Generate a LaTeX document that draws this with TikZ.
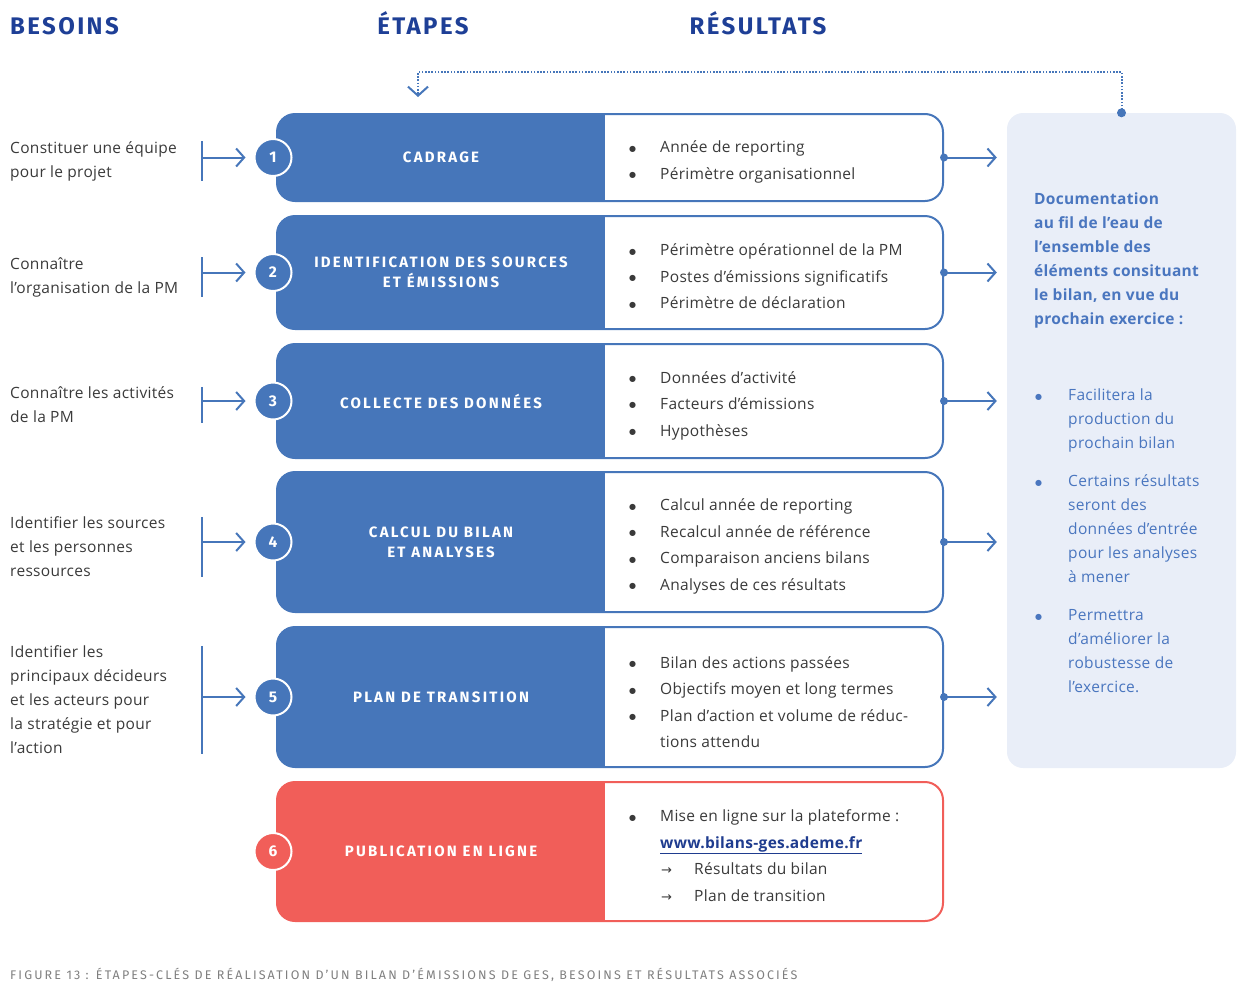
\documentclass[tikz,border=0pt]{standalone}
\usepackage{fontspec}
\setmainfont[LetterSpace=2]{Open Sans}
\newfontfamily\capsfont[LetterSpace=15]{Fira Sans}
\newfontfamily\headfont[LetterSpace=10]{Fira Sans}
\newfontfamily\capfont[LetterSpace=17]{Fira Sans}
\newfontfamily\symfont{DejaVu Sans}
\usetikzlibrary{arrows.meta}
\definecolor{stepblue}{HTML}{4676BA}
\definecolor{stepred}{HTML}{F15E59}
\definecolor{headblue}{HTML}{1E3F96}
\definecolor{docfill}{HTML}{E9EEF8}
\definecolor{docblue}{HTML}{4A76BF}
\definecolor{textgray}{HTML}{3A3A3A}
\definecolor{capgray}{HTML}{7F7F7F}
\definecolor{urlblue}{HTML}{1F3C8F}
\newcommand\bdot{\raisebox{1.6pt}{\symfont\fontsize{8}{8}\selectfont ●}}
\newcommand\bul{\makebox[31pt][l]{\bdot}}
\newcommand\dbul{\makebox[33pt][l]{\bdot}}
\newcommand\dind{\hspace*{33pt}}
\newcommand\rarr{\hspace*{32pt}\makebox[33pt][l]{\symfont\fontsize{13}{13}\selectfont →}}
\begin{document}
\begin{tikzpicture}[x=1pt,y=-1pt,
  rowbox/.style={rectangle,rounded corners=18pt,draw=#1,fill=#1,line width=2pt,
    minimum width=666pt,inner sep=0pt,
    path picture={\fill[white,sharp corners]([xshift=328pt]path picture bounding box.south west)
      rectangle(path picture bounding box.north east);}},
  numcirc/.style={circle,fill=#1,draw=white,line width=2pt,minimum size=37pt,inner sep=0pt,
    text=white,font=\headfont\bfseries\fontsize{15.5}{15.5}\selectfont},
  steptitle/.style={text=white,align=center,inner sep=0pt,font=\capsfont\bfseries\fontsize{15}{20}\selectfont},
  restext/.style={anchor=west,align=left,inner sep=0pt,text=textgray,font=\fontsize{15.5}{26.5}\selectfont},
  needtext/.style={anchor=west,align=left,inner sep=0pt,text=textgray,font=\fontsize{15.5}{24}\selectfont},
  headtitle/.style={inner sep=0pt,anchor=base,text=headblue,font=\headfont\bfseries\fontsize{24}{24}\selectfont},
  needline/.style={stepblue,line width=2pt},
  arr/.style={stepblue,line width=2pt,-{Straight Barb[length=8pt,width=18pt]}},
  loopline/.style={stepblue,line width=2pt,dash pattern=on 1.6pt off 1.6pt,-{Straight Barb[length=9pt,width=20pt]}},
  docbox/.style={rectangle,rounded corners=16pt,fill=docfill,minimum width=229pt,minimum height=655pt}]
\useasboundingbox(0,0)rectangle(1247,991);
% column titles
\node[headtitle,anchor=base west](hb)at(10,34){BESOINS};
\node[headtitle](he)at(423,34){ÉTAPES};
\node[headtitle](hr)at(758,34){RÉSULTATS};
% documentation box
\node[docbox](doc)at(1121.5,440.5){};
\node[anchor=north west,align=left,inner sep=0pt,text=docblue,font=\bfseries\fontsize{15.5}{24}\selectfont](dt)at(1034,193){Documentation\\au fil de l’eau de\\l’ensemble des\\éléments consituant\\le bilan, en vue du\\prochain exercice :};
\node[anchor=north west,align=left,inner sep=0pt,text=docblue,font=\fontsize{15.5}{24}\selectfont](di)at(1035,389){\dbul Facilitera la\\\dind production du\\\dind prochain bilan\\[14pt]
\dbul Certains résultats\\\dind seront des\\\dind données d’entrée\\\dind pour les analyses\\\dind à mener\\[14pt]
\dbul Permettra\\\dind d’améliorer la\\\dind robustesse de\\\dind l’exercice.};
\coordinate(back)at(418,97);
\draw[loopline](doc.north)--++(0,-41)-|(back);
\fill[stepblue](doc.north)circle(4.5pt);
% step 1
\node[rowbox=stepblue,minimum height=87pt](r1)at(610,157.5){};
\node[numcirc=stepblue](n1)at([xshift=-3pt]r1.west){1};
\node[steptitle](t1)at([xshift=-169pt]r1.center){CADRAGE};
\node[restext](o1)at([xshift=19pt,yshift=-4.5pt]r1.center){\bul Année de reporting\\\bul Périmètre organisationnel};
\node[needtext](need1)at(10,161){Constituer une équipe\\pour le projet};
\coordinate(b1)at(202,157.5);
\draw[needline](need1.north-|b1)--(need1.south-|b1);
\draw[arr,shorten >=8pt](b1)--(n1.west);
\fill[stepblue](r1.east)circle(4pt);
\draw[arr,shorten >=10pt](r1.east)--(r1.east-|doc.west);
% step 2
\node[rowbox=stepblue,minimum height=113pt](r2)at(610,272.5){};
\node[numcirc=stepblue](n2)at([xshift=-3pt]r2.west){2};
\node[steptitle](t2)at([xshift=-169pt]r2.center){IDENTIFICATION DES SOURCES\\ET ÉMISSIONS};
\node[restext](o2)at([xshift=19pt,yshift=-4pt]r2.center){\bul Périmètre opérationnel de la PM\\\bul Postes d’émissions significatifs\\\bul Périmètre de déclaration};
\node[needtext](need2)at(10,277){Connaître\\l’organisation de la PM};
\coordinate(b2)at(202,272.5);
\draw[needline](need2.north-|b2)--(need2.south-|b2);
\draw[arr,shorten >=8pt](b2)--(n2.west);
\fill[stepblue](r2.east)circle(4pt);
\draw[arr,shorten >=10pt](r2.east)--(r2.east-|doc.west);
% step 3
\node[rowbox=stepblue,minimum height=114pt](r3)at(610,401){};
\node[numcirc=stepblue](n3)at([xshift=-3pt]r3.west){3};
\node[steptitle](t3)at([xshift=-169pt]r3.center){COLLECTE DES DONNÉES};
\node[restext](o3)at([xshift=19pt,yshift=-4.5pt]r3.center){\bul Données d’activité\\\bul Facteurs d’émissions\\\bul Hypothèses};
\node[needtext](need3)at(10,405){Connaître les activités\\de la PM};
\coordinate(b3)at(202,401);
\draw[needline](need3.north-|b3)--(need3.south-|b3);
\draw[arr,shorten >=8pt](b3)--(n3.west);
\fill[stepblue](r3.east)circle(4pt);
\draw[arr,shorten >=10pt](r3.east)--(r3.east-|doc.west);
% step 4
\node[rowbox=stepblue,minimum height=140pt](r4)at(610,542){};
\node[numcirc=stepblue](n4)at([xshift=-3pt]r4.west){4};
\node[steptitle](t4)at([xshift=-169pt]r4.center){CALCUL DU BILAN\\ET ANALYSES};
\node[restext](o4)at([xshift=19pt,yshift=-4.5pt]r4.center){\bul Calcul année de reporting\\\bul Recalcul année de référence\\\bul Comparaison anciens bilans\\\bul Analyses de ces résultats};
\node[needtext](need4)at(10,547){Identifier les sources\\et les personnes\\ressources};
\coordinate(b4)at(202,542);
\draw[needline](need4.north-|b4)--(need4.south-|b4);
\draw[arr,shorten >=8pt](b4)--(n4.west);
\fill[stepblue](r4.east)circle(4pt);
\draw[arr,shorten >=10pt](r4.east)--(r4.east-|doc.west);
% step 5
\node[rowbox=stepblue,minimum height=140pt](r5)at(610,697){};
\node[numcirc=stepblue](n5)at([xshift=-3pt]r5.west){5};
\node[steptitle](t5)at([xshift=-169pt]r5.center){PLAN DE TRANSITION};
\node[restext](o5)at([xshift=19pt,yshift=-5pt]r5.center){\bul Bilan des actions passées\\\bul Objectifs moyen et long termes\\\bul Plan d’action et volume de réduc-\\\hspace*{31pt}tions attendu};
\node[needtext](need5)at(10,700){Identifier les\\principaux décideurs\\et les acteurs pour\\la stratégie et pour\\l’action};
\coordinate(b5)at(202,697);
\draw[needline](need5.north-|b5)--(need5.south-|b5);
\draw[arr,shorten >=8pt](b5)--(n5.west);
\fill[stepblue](r5.east)circle(4pt);
\draw[arr,shorten >=10pt](r5.east)--(r5.east-|doc.west);
% step 6
\node[rowbox=stepred,minimum height=139pt](r6)at(610,851.5){};
\node[numcirc=stepred](n6)at([xshift=-3pt]r6.west){6};
\node[steptitle](t6)at([xshift=-169pt]r6.center){PUBLICATION EN LIGNE};
\node[restext](o6)at([xshift=19pt,yshift=-4pt]r6.center){\bul Mise en ligne sur la plateforme :\\\hspace*{31pt}{\bfseries\color{urlblue}\underline{www.bilans-ges.ademe.fr}}\\\rarr Résultats du bilan\\\rarr Plan de transition};
% caption
\node[anchor=west,inner sep=0pt,text=capgray,font=\capfont\fontsize{12.5}{12.5}\selectfont](cap)at(10,975){FIGURE 13 : ÉTAPES-CLÉS DE RÉALISATION D’UN BILAN D’ÉMISSIONS DE GES, BESOINS ET RÉSULTATS ASSOCIÉS};
\end{tikzpicture}
\end{document}
